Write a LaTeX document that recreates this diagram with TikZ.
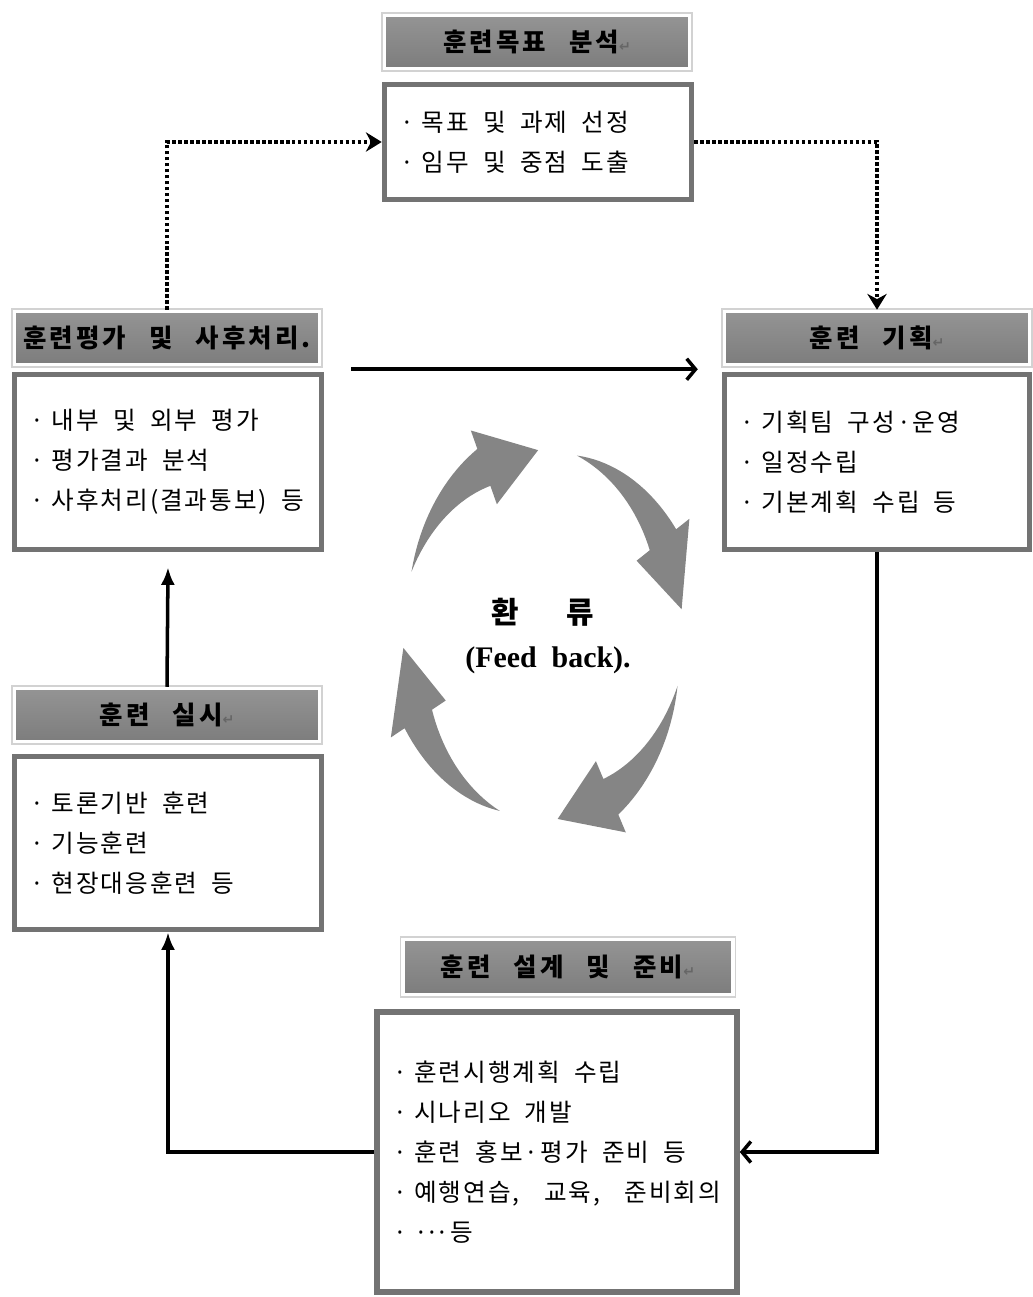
\documentclass[tikz,border=0pt]{standalone}
\usepackage{fontspec}
\setmainfont{Noto Sans CJK KR}
\newfontfamily\headfam{Noto Sans CJK KR}[LetterSpace=12, WordSpace=2.6]
\newfontfamily\bodyfam{Noto Sans CJK KR}[LetterSpace=8]
\newfontfamily\fbfont{Liberation Serif}
\newfontfamily\arrfont{DejaVu Sans}
\usetikzlibrary{arrows.meta,shadows}

\definecolor{headtop}{gray}{0.58}
\definecolor{headbot}{gray}{0.49}
\definecolor{boxline}{gray}{0.45}
\definecolor{cyclegray}{gray}{0.52}

\newcommand\headfont{\headfam\fontsize{14.5}{16}\selectfont\bfseries}
\newcommand\bodyfont{\bodyfam\fontsize{14}{22.8}\selectfont}
\newcommand\retmark{{\arrfont\fontsize{8}{8}\selectfont\color{black!60}↵}}
\newcommand\dotm{·\hspace{0.3em}}

\begin{document}
\begin{tikzpicture}[x=0.02cm, y=-0.02cm,
    headbox/.style={top color=headtop, bottom color=headbot, draw=white, line width=2pt,
      preaction={draw=gray!35, line width=3.6pt}, inner sep=0pt,
      minimum width=6.1cm, minimum height=1.06cm, font=\headfont},
    bodybox/.style={fill=white, draw=boxline, line width=3.2pt, align=left,
      inner xsep=0.32cm, inner ysep=0pt, font=\bodyfont,
      execute at begin node={\spaceskip=0.58em\relax},
      drop shadow={shadow xshift=1.2pt, shadow yshift=-1.6pt, fill=gray!70, opacity=0.6}},
    link/.style={line width=2pt, -{Straight Barb[length=5pt,width=12pt,line width=2pt]}},
    uplink/.style={line width=2pt, -{Latex[length=10pt,width=8pt]}},
    dotlink/.style={line width=2.2pt, dash pattern=on 2pt off 1.4pt, -{Stealth[length=9pt,width=11pt]}},
    cyclearrow/.style={fill=cyclegray}]
  \useasboundingbox (0,0) rectangle (1032,1297);

  % feedback cycle, drawn on an ellipse round the middle
  \begin{scope}[shift={(543,635)}, x={(2.8cm,0cm)}, y={(0cm,3.7cm)}]
    \foreach \s in {160,76,-16,-108}{
      \pgfmathsetmacro\b{\s-45}
      \pgfmathsetmacro\e{\s-68}
      \fill[cyclearrow] plot[domain=\s:\b, samples=20, variable=\a] (\a:{1+0.11*(\s-\a)/45})
        -- (\b:1.22) -- (\e:1.0) -- (\b:0.78)
        -- plot[domain=\b:\s, samples=20, variable=\a] (\a:{1-0.11*(\s-\a)/45}) -- cycle;
    }
  \end{scope}
  \node[font=\fontsize{17}{20}\selectfont\bfseries] (fbK) at (543,612) {환\hspace{1.6em}류};
  \node[font=\fbfont\fontsize{17}{20}\selectfont\bfseries] (fbE) at (548,660) {(Feed\hspace{0.5em}back).};

  \node[headbox] (goalH) at (537,42) {훈련목표 분석\retmark};
  \node[bodybox, text width=5.5cm, minimum height=2.3cm] (goalB) at (538,142)
    {\dotm 목표 및 과제 선정\\\dotm 임무 및 중점 도출};

  \node[headbox] (evalH) at (167,338) {훈련평가 및 사후처리.};
  \node[bodybox, text width=5.5cm, minimum height=3.5cm] (evalB) at (168,462)
    {\dotm 내부 및 외부 평가\\\dotm 평가결과 분석\\\mbox{\dotm 사후처리(결과통보) 등}};

  \node[headbox] (planH) at (877,338) {훈련 기획\retmark};
  \node[bodybox, text width=5.46cm, minimum height=3.5cm] (planB) at (877,462)
    {\dotm 기획팀 구성·운영\\\dotm 일정수립\\\dotm 기본계획 수립 등};

  \node[headbox] (actH) at (167,715) {훈련 실시\retmark};
  \node[bodybox, text width=5.5cm, minimum height=3.46cm] (actB) at (168,843)
    {\dotm 토론기반 훈련\\\dotm 기능훈련\\\dotm 현장대응훈련 등};

  \node[headbox, minimum width=6.6cm, minimum height=1.1cm] (designH) at (568,967) {훈련 설계 및 준비\retmark};
  \node[bodybox, text width=6.56cm, minimum height=5.6cm] (designB) at (557,1152)
    {\dotm 훈련시행계획 수립\\\dotm 시나리오 개발\\\dotm 훈련 홍보·평가 준비 등\\\dotm 예행연습,\hspace{1em}교육,\hspace{1em}준비회의\\\dotm ·\kern-0.12em·\kern-0.12em·\kern0.05em 등};

  % dotted loop back to the goal analysis
  \draw[dotlink] (evalH.north) |- (goalB.west);
  \draw[dotlink] (goalB.east) -| (planH.north);

  \draw[link] ([xshift=0.6cm,yshift=-0.06cm]evalH.south east) -- ([xshift=-0.5cm,yshift=-0.06cm]planH.south west);
  \draw[link] (planB.south) |- (designB.east);
  \draw[uplink] (designB.west) -| (actB.south);
  \draw[uplink] (actH.north) -- ([yshift=-0.3cm]evalB.south);
\end{tikzpicture}
\end{document}
